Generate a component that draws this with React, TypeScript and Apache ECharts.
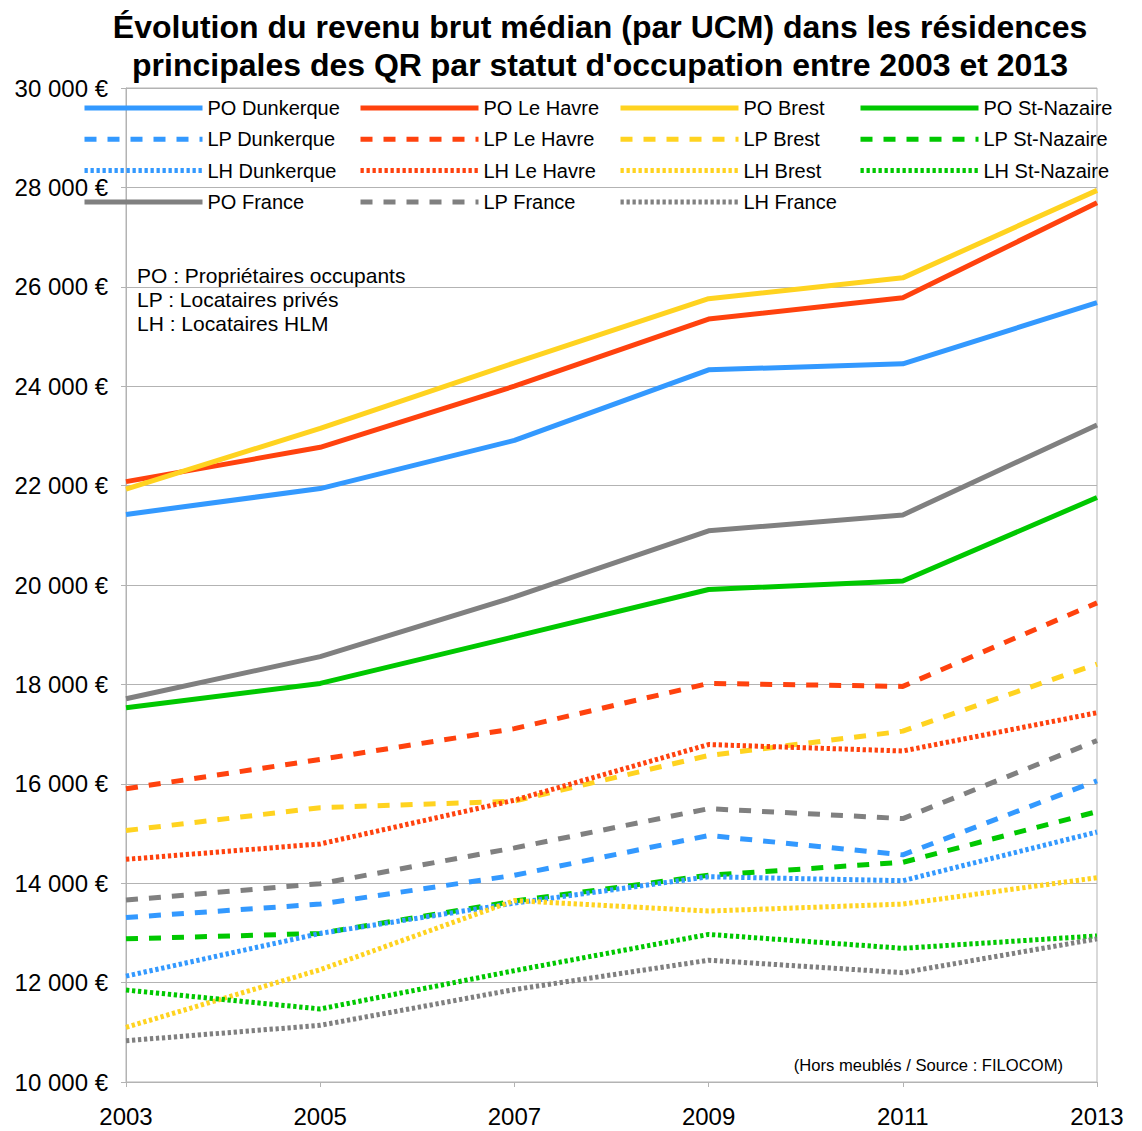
import React, { useEffect, useRef } from 'react';
import * as echarts from 'echarts';

const years = ['2003', '2005', '2007', '2009', '2011', '2013'];

const poDunkerque = [21420, 21940, 22910, 24330, 24450, 25680];
const poLeHavre = [22080, 22770, 24000, 25350, 25780, 27690];
const poBrest = [21930, 23150, 24470, 25760, 26180, 27940];
const poStNazaire = [17530, 18020, 18960, 19910, 20080, 21760];
const poFrance = [17710, 18560, 19760, 21090, 21410, 23220];

const lpDunkerque = [13310, 13580, 14160, 14960, 14570, 16060];
const lpLeHavre = [15900, 16490, 17110, 18020, 17960, 19640];
const lpBrest = [15060, 15520, 15650, 16570, 17060, 18410];
const lpStNazaire = [12880, 12990, 13640, 14160, 14420, 15440];
const lpFrance = [13660, 13990, 14710, 15500, 15300, 16870];

const lhDunkerque = [12130, 12990, 13600, 14130, 14050, 15030];
const lhLeHavre = [14480, 14790, 15670, 16790, 16660, 17430];
const lhBrest = [11100, 12260, 13650, 13440, 13580, 14110];
const lhStNazaire = [11850, 11470, 12240, 12970, 12690, 12940];
const lhFrance = [10830, 11140, 11860, 12450, 12200, 12880];

const yMin = 10000;
const yMax = 30000;
const yStep = 2000;

const titleLines = [
  "Évolution du revenu brut médian (par UCM) dans les résidences",
  "principales des QR par statut d'occupation entre 2003 et 2013",
];
const noteLines = [
  'PO : Propriétaires occupants',
  'LP : Locataires privés',
  'LH : Locataires HLM',
];
const sourceText = '(Hors meublés / Source : FILOCOM)';

const BLUE = '#3399ff';
const RED = '#ff420e';
const YELLOW = '#ffd320';
const GREEN = '#00c800';
const GRAY = '#808080';
const SOLID: any = 'solid';
const DASH: any = [12, 11];
const DOT: any = [3.3, 2.7];

const seriesDefs = [
  { name: 'PO Dunkerque', data: poDunkerque, color: BLUE, dash: SOLID },
  { name: 'PO Le Havre', data: poLeHavre, color: RED, dash: SOLID },
  { name: 'PO Brest', data: poBrest, color: YELLOW, dash: SOLID },
  { name: 'PO St-Nazaire', data: poStNazaire, color: GREEN, dash: SOLID },
  { name: 'LP Dunkerque', data: lpDunkerque, color: BLUE, dash: DASH },
  { name: 'LP Le Havre', data: lpLeHavre, color: RED, dash: DASH },
  { name: 'LP Brest', data: lpBrest, color: YELLOW, dash: DASH },
  { name: 'LP St-Nazaire', data: lpStNazaire, color: GREEN, dash: DASH },
  { name: 'LH Dunkerque', data: lhDunkerque, color: BLUE, dash: DOT },
  { name: 'LH Le Havre', data: lhLeHavre, color: RED, dash: DOT },
  { name: 'LH Brest', data: lhBrest, color: YELLOW, dash: DOT },
  { name: 'LH St-Nazaire', data: lhStNazaire, color: GREEN, dash: DOT },
  { name: 'PO France', data: poFrance, color: GRAY, dash: SOLID },
  { name: 'LP France', data: lpFrance, color: GRAY, dash: DASH },
  { name: 'LH France', data: lhFrance, color: GRAY, dash: DOT },
];

const legendColumns = [
  ['PO Dunkerque', 'LP Dunkerque', 'LH Dunkerque', 'PO France'],
  ['PO Le Havre', 'LP Le Havre', 'LH Le Havre', 'LP France'],
  ['PO Brest', 'LP Brest', 'LH Brest', 'LH France'],
  ['PO St-Nazaire', 'LP St-Nazaire', 'LH St-Nazaire'],
];
const legendLefts = [82, 358, 618, 858];

const FONT = "'Liberation Sans', Arial, sans-serif";
const GRID_COLOR = '#b3b3b3';

function fmtEuro(v: number) {
  return String(v).replace(/\B(?=(\d{3})+(?!\d))/g, ' ') + ' €';
}

export default function App() {
  const ref = useRef<HTMLDivElement>(null);
  useEffect(() => {
    if (!ref.current) return;
    const chart = echarts.init(ref.current, null, { renderer: 'svg' });
    const option: any = {
      animation: false,
      backgroundColor: '#ffffff',
      textStyle: { fontFamily: FONT, color: '#000' },
      grid: {
        left: 126,
        right: 45,
        top: 88,
        bottom: 49,
        show: true,
        borderColor: GRID_COLOR,
        borderWidth: 1,
      },
      legend: legendColumns.map((col, i) => ({
        orient: 'vertical',
        left: legendLefts[i],
        top: 98,
        padding: 0,
        itemWidth: 118,
        itemHeight: 20,
        itemGap: 11.3,
        selectedMode: false,
        data: col,
        itemStyle: { opacity: 0 },
        lineStyle: { width: 5 },
        textStyle: {
          fontFamily: FONT,
          fontSize: 20,
          color: '#000',
        },
      })),
      xAxis: {
        type: 'category',
        data: years,
        boundaryGap: false,
        axisLine: { show: true, lineStyle: { color: GRID_COLOR, width: 1 } },
        axisTick: { show: true, length: 5, lineStyle: { color: GRID_COLOR } },
        axisLabel: { fontFamily: FONT, fontSize: 24, color: '#000', margin: 22 },
        splitLine: { show: false },
      },
      yAxis: {
        type: 'value',
        min: yMin,
        max: yMax,
        interval: yStep,
        axisLine: { show: true, lineStyle: { color: GRID_COLOR, width: 1 } },
        axisTick: { show: true, length: 5, lineStyle: { color: GRID_COLOR } },
        axisLabel: {
          fontFamily: FONT,
          fontSize: 24,
          color: '#000',
          margin: 18,
          formatter: (v: number) => fmtEuro(v),
        },
        splitLine: { show: true, lineStyle: { color: GRID_COLOR, width: 1 } },
      },
      series: seriesDefs.map((s) => ({
        name: s.name,
        type: 'line',
        data: s.data,
        color: s.color,
        symbol: 'none',
        showSymbol: false,
        lineStyle: { width: 5, color: s.color, type: s.dash, cap: 'butt' },
        emphasis: { disabled: true },
      })),
      graphic: [
        ...titleLines.map((t, i) => ({
          type: 'text',
          x: 600,
          y: 27 + i * 38,
          style: {
            text: t,
            font: `bold 32px ${FONT}`,
            fill: '#000',
            textAlign: 'center',
            textVerticalAlign: 'middle',
          },
        })),
        ...noteLines.map((t, i) => ({
          type: 'text',
          x: 137,
          y: 275 + i * 24,
          style: {
            text: t,
            font: `21px ${FONT}`,
            fill: '#000',
            textAlign: 'left',
            textVerticalAlign: 'middle',
          },
        })),
        {
          type: 'text',
          x: 1063,
          y: 1065,
          style: {
            text: sourceText,
            font: `16.6px ${FONT}`,
            fill: '#000',
            textAlign: 'right',
            textVerticalAlign: 'middle',
          },
        },
      ],
    };
    chart.setOption(option);
    return () => chart.dispose();
  }, []);
  return (
    <div
      ref={ref}
      style={{ position: 'absolute', left: 0, top: 0, width: 1142, height: 1131 }}
    />
  );
}
